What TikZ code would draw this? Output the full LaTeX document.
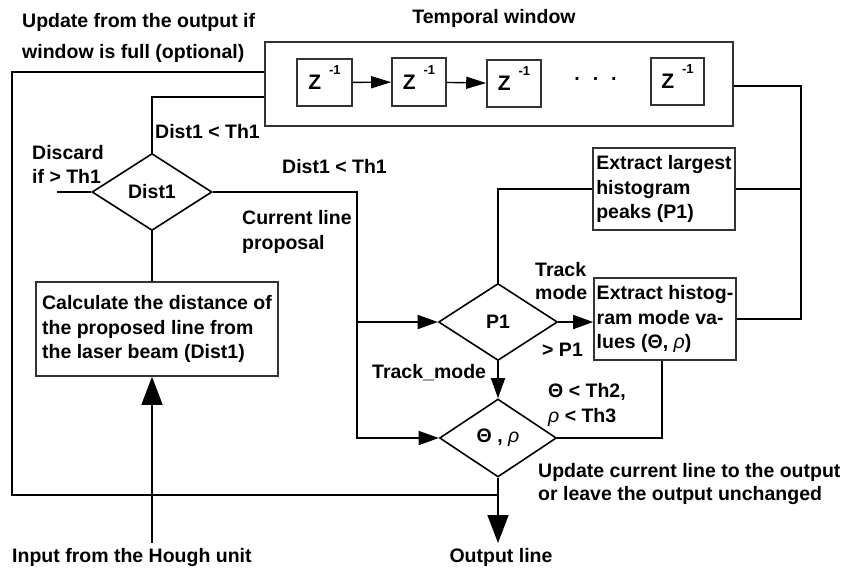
\documentclass[tikz,border=0pt]{standalone}
\usepackage{fontspec}
\setmainfont{Liberation Sans}
\usetikzlibrary{shapes.geometric,arrows.meta}
\newcommand\myrho{{\normalfont\itshape ρ}}
\newcommand\zlabel{{\fontsize{21}{21}\selectfont Z\hspace{8pt}\smash{\raisebox{15pt}{\fontsize{13}{13}\selectfont -1}}}}
\begin{document}
\begin{tikzpicture}[x=1pt,y=-1pt,
  every node/.style={font=\fontsize{19.5}{24.5}\selectfont\bfseries, inner sep=0pt},
  box/.style={draw=black!80, line width=1.6pt, rectangle, inner sep=0pt},
  dia/.style={draw=black, line width=1.6pt, diamond, inner sep=0pt},
  ln/.style={line width=1.6pt},
  arr/.style={ln, -{Triangle[length=20pt,width=14pt]}},
  zarr/.style={line width=1.4pt, -{Triangle[length=20pt,width=12pt]}},
  bigarr/.style={ln, -{Triangle[length=28pt,width=21pt]}},
  lbl/.style={anchor=west, align=left},
]
\useasboundingbox (0,0) rectangle (843,570);

% temporal window
\node[box, minimum width=468pt, minimum height=84pt] (tw) at (499,84) {};
\node[box, minimum width=55pt, minimum height=47pt] (z1) at (324.5,82.5) {\zlabel};
\node[box, minimum width=54pt, minimum height=48pt] (z2) at (419,82) {\zlabel};
\node[box, minimum width=54pt, minimum height=47pt] (z3) at (514,83.5) {\zlabel};
\node[box, minimum width=53pt, minimum height=47pt] (z4) at (677.5,81.5) {\zlabel};
\node (dots) at (596,82) {·\hspace{12pt}·\hspace{12pt}·};
\draw[zarr] (z1) -- (z2);
\draw[zarr] (z2) -- (z3);

% decision and process nodes
\node[dia, minimum width=120pt, minimum height=77pt] (dist1) at (152,192) {Dist1};
\node[box, minimum width=242pt, minimum height=94pt, align=left] (calc) at (157,329)
  {Calculate the distance of\\the proposed line from\\the laser beam (Dist1)};
\node[dia, minimum width=119pt, minimum height=77pt] (p1) at (498,322) {P1};
\node[dia, minimum width=117pt, minimum height=78pt] (theta) at (498,438) {Θ , \myrho};
\node[box, minimum width=142pt, minimum height=82pt, align=left] (peaks) at (664,189)
  {Extract largest\\histogram\\peaks (P1)};
\node[box, minimum width=142pt, minimum height=82pt, align=left] (mode) at (665,319)
  {Extract histog-\\ram mode va-\\lues (Θ, \myrho)};

% coordinates for free ends
\coordinate (discard) at (57,192);
\coordinate (sp) at (357,322);
\coordinate (input) at (152,543);
\coordinate (output) at (498,543);
\coordinate (j) at (498,495);

% connectors
\draw[ln] (tw.west |- 0,72) -| (12,495) -- (j);
\draw[ln] (tw.west |- 0,97) -| (dist1.north);
\draw[ln] (discard) -- (dist1.west);
\draw[ln] (dist1.east) -| (sp);
\draw[arr] (sp) -- (p1.west);
\draw[arr] (sp) |- (theta.west);
\draw[ln] (dist1.south) -- (dist1.south |- calc.north);
\draw[bigarr] (input) -- (input |- calc.south);
\draw[ln] (p1.north) |- (peaks.west);
\draw[ln] (peaks.east) -- (peaks.east -| 801,0);
\draw[ln] (tw.east |- 0,86) -| (mode.east -| 801,0) -- (mode.east);
\draw[arr] (p1.east) -- (p1.east -| mode.west);
\draw[arr] (p1.south) -- (theta.north);
\draw[ln] (mode.south -| 662,0) |- (theta.east);
\draw[bigarr] (theta.south) -- (output);

% labels
\node[lbl, font=\fontsize{19.5}{31}\selectfont\bfseries] (lupd) at (22,38) {Update from the output if\\window is full (optional)};
\node (ltw) at (494,18) {Temporal window};
\node[lbl] (ld1) at (155,132) {Dist1 < Th1};
\node[lbl] (ldisc) at (32,164.5) {Discard\\if > Th1};
\node[lbl] (ld2) at (282,167) {Dist1 < Th1};
\node[lbl] (lcur) at (242,232) {Current line\\proposal};
\node[lbl, font=\fontsize{19.5}{23}\selectfont\bfseries] (ltrack) at (535,281.5) {Track\\mode};
\node[lbl] (lgp) at (542,350) {> P1};
\node[lbl] (ltm) at (372,373) {Track\_mode};
\node[lbl] (lth) at (548,405) {Θ < Th2,\\\myrho{} < Th3};
\node[lbl, font=\fontsize{19.5}{23}\selectfont\bfseries] (lupd2) at (538,483.5) {Update current line to the output\\or leave the output unchanged};
\node[lbl] (lin) at (12,557) {Input from the Hough unit};
\node (lout) at (501,557) {Output line};
\end{tikzpicture}
\end{document}
